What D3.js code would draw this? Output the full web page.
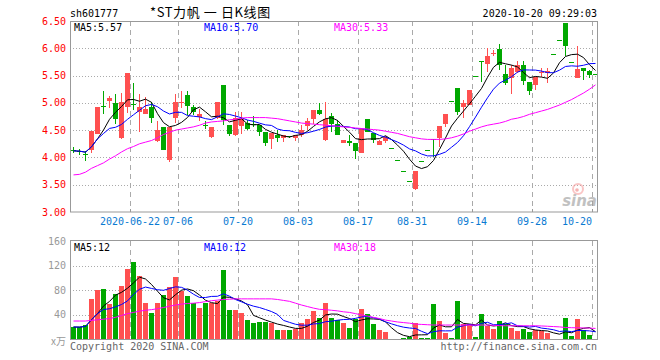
<!DOCTYPE html>
<html><head><meta charset="utf-8">
<script src="https://cdn.jsdelivr.net/npm/d3@7/dist/d3.min.js"></script>
<style>body{margin:0;background:#fff}svg{display:block}</style>
</head><body><svg id="c" width="660" height="360"></svg>
<script>
// ---- data ----
const dates = ["06-08","06-09","06-10","06-11","06-12","06-15","06-16","06-17","06-18","06-19",
"06-22","06-23","06-24","06-29","06-30","07-01","07-02","07-03","07-06","07-07",
"07-08","07-09","07-10","07-13","07-14","07-15","07-16","07-17","07-20","07-21",
"07-22","07-23","07-24","07-27","07-28","07-29","07-30","07-31","08-03","08-04",
"08-05","08-06","08-07","08-10","08-11","08-12","08-13","08-14","08-17","08-18",
"08-19","08-20","08-24","08-25","08-26","08-27","08-28","08-31","09-01","09-02",
"09-03","09-04","09-07","09-08","09-09","09-10","09-11","09-14","09-15","09-16",
"09-17","09-18","09-21","09-22","09-23","09-24","09-25","09-28","09-29","09-30",
"10-09","10-12","10-13","10-14","10-15","10-16","10-19","10-20"];
const open  = [4.13,4.12,4.07,4.14,4.43,4.94,5.04,5.00,4.35,4.93,4.97,4.83,4.80,4.93,4.31,4.55,3.95,4.73,4.99,5.14,4.93,4.74,4.59,4.38,4.72,5.33,4.59,4.41,4.58,4.64,4.61,4.59,4.47,4.34,4.41,4.36,4.39,4.36,4.42,4.58,4.70,4.87,4.32,4.76,4.61,4.27,4.30,4.26,4.08,4.70,4.45,4.23,4.30,4.17,3.96,3.76,3.57,3.42,3.94,4.13,4.34,4.35,4.61,5.04,5.28,4.93,4.96,5.50,5.76,5.72,5.89,5.98,5.53,5.45,5.57,5.69,5.39,5.33,5.55,5.55,5.89,6.16,6.47,5.74,5.46,5.63,5.58,5.52];
const high  = [4.19,4.16,4.11,4.49,4.92,5.22,5.13,5.16,5.18,5.54,5.37,5.16,5.11,5.01,4.66,4.55,4.55,5.16,5.21,5.21,4.96,4.89,4.66,4.55,5.01,5.33,4.59,4.84,4.84,4.69,4.76,4.59,4.47,4.45,4.50,4.42,4.40,4.42,4.59,4.73,4.87,5.00,5.01,4.82,4.69,4.32,4.41,4.26,4.52,4.70,4.45,4.32,4.39,4.17,3.96,3.76,3.57,3.75,3.94,4.13,4.34,4.58,4.80,5.04,5.28,5.06,5.24,5.50,5.77,6.01,5.97,6.08,5.69,5.69,5.77,5.77,5.39,5.48,5.63,5.63,5.89,6.16,6.47,5.74,6.05,5.63,5.61,5.52];
const low   = [4.08,4.04,3.94,4.09,4.43,4.79,4.90,4.61,4.34,4.82,4.87,4.47,4.80,4.64,4.29,4.14,3.92,4.63,4.90,4.78,4.78,4.67,4.53,4.36,4.71,4.60,4.40,4.40,4.43,4.50,4.55,4.39,4.21,4.16,4.29,4.28,4.35,4.30,4.38,4.50,4.61,4.78,4.31,4.47,4.41,4.27,4.21,3.98,4.08,4.47,4.27,4.23,4.26,4.17,3.96,3.76,3.57,3.40,3.94,4.13,4.01,4.20,4.56,5.04,4.78,4.72,4.96,5.50,5.38,5.57,5.85,5.61,5.33,5.17,5.54,5.33,5.14,5.24,5.48,5.36,5.89,6.16,5.85,5.74,5.46,5.42,5.46,5.52];
const close = [4.12,4.11,4.06,4.49,4.92,4.93,5.09,4.70,5.02,5.54,4.96,4.93,4.89,4.73,4.50,4.14,4.55,5.01,5.01,4.95,4.84,4.80,4.58,4.55,5.01,4.69,4.43,4.72,4.70,4.53,4.60,4.47,4.27,4.44,4.36,4.42,4.38,4.42,4.51,4.66,4.87,4.80,4.70,4.61,4.41,4.32,4.27,4.11,4.52,4.47,4.32,4.30,4.38,4.17,3.96,3.76,3.57,3.75,3.94,4.13,4.33,4.58,4.80,5.04,4.84,4.99,5.24,5.50,5.75,5.86,5.91,5.69,5.37,5.63,5.69,5.40,5.22,5.48,5.57,5.58,5.89,6.16,6.05,5.74,5.62,5.58,5.51,5.52];
const volume = [20.3,20,23.5,65,81,82.7,57,74.7,87.5,114.7,125.9,103.5,60,42.7,60,73,86,102,79.5,70,58.7,50.7,60,60,62,113,47.5,47.5,42.7,31.5,26.7,28.3,28.3,26.7,15.5,15.5,15.5,17,26.7,33,46,34.7,58.7,34.7,31.5,26.7,18.7,33,49,41,25,15.5,12.3,1.6,1.6,2.7,4.8,26,2.7,2.7,57,30,10.7,2.7,62,25,25,4.3,41.6,21.9,17,30,25,18.7,13.9,17,12.3,15.5,13.9,10.7,1.6,1.6,34.7,5.9,33,15.5,7.5,1.6];
// 30-day averages (they need history before the first visible day)
const priceMA30 = [3.68,3.69,3.73,3.80,3.85,3.90,3.97,4.03,4.10,4.16,4.20,4.25,4.28,4.31,4.36,4.42,4.46,4.50,4.52,4.54,4.56,4.59,4.63,4.65,4.66,4.67,4.69,4.70,4.72,4.73,4.73,4.73,4.73,4.72,4.71,4.69,4.67,4.65,4.63,4.62,4.61,4.60,4.59,4.58,4.57,4.56,4.55,4.54,4.53,4.52,4.51,4.50,4.48,4.46,4.44,4.41,4.38,4.36,4.34,4.33,4.33,4.33,4.34,4.36,4.39,4.43,4.48,4.52,4.56,4.59,4.61,4.63,4.66,4.70,4.72,4.75,4.79,4.82,4.85,4.88,4.92,4.96,5.01,5.06,5.12,5.18,5.25,5.33];
const volMA30 = [30,30,30,31,32,33,34,36,39,42,44,46,47.5,48.5,50,52,54,56,57.5,58.5,59,60,61.5,63,64,65,65.5,66,66,66,66,66,66,66,65,63.5,62,59,56,53.5,51,49,48.5,47.5,46.5,45,44,42,40,38,36,34,31.5,30,28.5,27.5,26.5,25,24.5,24,23.5,23.5,23.5,23.5,23.5,23.5,23.5,23.5,23.5,23.5,23,22.5,22.3,22.3,22.3,22.3,22.3,22.3,22,21.5,21,20.5,19.5,19.2,19,18.8,18.5,18];
const priceTicks = [6.5,6.0,5.5,5.0,4.5,4.0,3.5,3.0];
const volTicks = [160,120,80,40];
const dateTicks = ["06-22","07-06","07-20","08-03","08-17","08-31","09-14","09-28","10-20"];
const dateTickLabels = ["2020-06-22","07-06","07-20","08-03","08-17","08-31","09-14","09-28","10-20"];
const titleCode = "sh601777", titleName = "*ST力帆 一 日K线图", stamp = "2020-10-20 09:29:03";
const priceLegend = ["MA5:5.57","MA10:5.70","MA30:5.33"];
const volLegend = ["MA5:12","MA10:12","MA30:18"];

// ---- helpers ----
function ma(a, n){ return a.map((v,i)=>{ const s=a.slice(Math.max(0,i-n+1),i+1); return d3.mean(s); }); }
const RED="#ff5050", GREEN="#00a800", GRID="#aaaaaa", FRAME="#999999";
const MONO="'DejaVu Sans Mono', monospace";
const FS=10;

const svg = d3.select("#c");
const L=70, R=597;
const x = d3.scaleBand().domain(dates).range([L, L+dates.length*6]).padding(0);
const yP = d3.scaleLinear().domain([3,6.5]).range([212,21]);
const yV = d3.scaleLinear().domain([0,160]).range([339.5,241]);
const cx = d => x(d)+3.5;

// header
svg.append("text").attr("x",70).attr("y",13).attr("dy","0.35em").attr("font-family",MONO).attr("font-size",FS).text(titleCode);
svg.append("text").attr("x",150).attr("y",12).attr("dy","0.38em").attr("font-family","'Noto Sans CJK SC', sans-serif").attr("font-size",13).attr("letter-spacing",0.6).text(titleName);
svg.append("text").attr("x",597).attr("y",13).attr("dy","0.35em").attr("text-anchor","end").attr("font-family",MONO).attr("font-size",FS).text(stamp);

function panel(top,bottom,yTicksPos){
  const g=svg.append("g");
  yTicksPos.forEach(y=>g.append("line").attr("x1",L).attr("x2",R).attr("y1",Math.round(y)+0.5).attr("y2",Math.round(y)+0.5)
    .attr("stroke",GRID).attr("stroke-dasharray","1,2"));
  dateTicks.forEach(d=>g.append("line").attr("x1",x(d)+0.5).attr("x2",x(d)+0.5).attr("y1",top).attr("y2",bottom)
    .attr("stroke",GRID).attr("stroke-dasharray","5,4"));
  return g;
}
panel(21,212,priceTicks.filter(t=>t>3&&t<6.5).map(yP));
panel(241,339,[120,80,40].map(yV));

// watermark
const wm = svg.append("g").attr("opacity",0.6);
wm.append("circle").attr("cx",578).attr("cy",189).attr("r",5).attr("fill","none").attr("stroke","#f7a0a0").attr("stroke-width",2);
wm.append("circle").attr("cx",577).attr("cy",190).attr("r",1.8).attr("fill","#f08080");
wm.append("text").attr("x",597).attr("y",206).attr("text-anchor","end").attr("font-family","'DejaVu Sans', sans-serif")
  .attr("font-style","italic").attr("font-weight","bold").attr("font-size",15).attr("fill","#999").text("sina");

// candles
const gC = svg.append("g").attr("shape-rendering","crispEdges");
dates.forEach((d,i)=>{
  const col = close[i]>open[i]?RED:GREEN;
  gC.append("rect").attr("x",x(d)+3).attr("width",1).attr("y",yP(high[i])).attr("height",Math.max(1,yP(low[i])-yP(high[i]))).attr("fill",col);
  const t=yP(Math.max(open[i],close[i])), b=yP(Math.min(open[i],close[i]));
  gC.append("rect").attr("x",x(d)+1).attr("width",5).attr("y",Math.round(t)).attr("height",Math.max(1,Math.round(b)-Math.round(t))).attr("fill",col);
});
const lineP = d3.line().x((v,i)=>cx(dates[i])).y(v=>yP(v));
[[ma(close,5),"#000"],[ma(close,10),"#0000ff"],[priceMA30,"#ff00ff"]].forEach(([a,c])=>
  svg.append("path").attr("d",lineP(a)).attr("fill","none").attr("stroke",c).attr("stroke-width",1));

// volume bars
const gV = svg.append("g").attr("shape-rendering","crispEdges");
dates.forEach((d,i)=>{
  const col = close[i]>open[i]?RED:GREEN;
  gV.append("rect").attr("x",x(d)+1).attr("width",5).attr("y",yV(volume[i])).attr("height",yV(0)-yV(volume[i])).attr("fill",col);
});
const lineV = d3.line().x((v,i)=>cx(dates[i])).y(v=>yV(v));
[[ma(volume,5),"#000"],[ma(volume,10),"#0000ff"],[volMA30,"#ff00ff"]].forEach(([a,c])=>
  svg.append("path").attr("d",lineV(a)).attr("fill","none").attr("stroke",c).attr("stroke-width",1));

// frames
svg.append("rect").attr("x",L+0.5).attr("y",21.5).attr("width",R-L).attr("height",190.5).attr("fill","none").attr("stroke",FRAME);
svg.append("rect").attr("x",L+0.5).attr("y",240.5).attr("width",R-L).attr("height",99).attr("fill","none").attr("stroke",FRAME);
dateTicks.forEach(d=>svg.append("line").attr("x1",x(d)+0.5).attr("x2",x(d)+0.5).attr("y1",209).attr("y2",212).attr("stroke",FRAME));

// y labels
priceTicks.forEach(t=>svg.append("text").attr("x",66).attr("y",yP(t)).attr("dy","0.35em").attr("text-anchor","end")
  .attr("font-family",MONO).attr("font-size",FS).attr("fill","#ff0000").text(t.toFixed(2)));
volTicks.forEach(t=>svg.append("text").attr("x",66).attr("y",yV(t)).attr("dy","0.35em").attr("text-anchor","end")
  .attr("font-family",MONO).attr("font-size",FS).attr("fill","#999").text(t));
svg.append("text").attr("x",66).attr("y",341).attr("dy","0.35em").attr("text-anchor","end")
  .attr("font-family","'Noto Sans CJK SC', sans-serif").attr("font-size",10).attr("fill","#999").text("x万");

// x labels
dateTicks.forEach((d,k)=>{
  const last = k===dateTicks.length-1;
  svg.append("text").attr("x",x(d)).attr("y",221).attr("dy","0.35em").attr("text-anchor",last?"end":"middle")
    .attr("font-family",MONO).attr("font-size",FS).attr("fill","#0a7ad2").text(dateTickLabels[k]);
});

// legends
const legCols=["#000","#0000ff","#ff00ff"], legX=[74,204,334];
priceLegend.forEach((t,k)=>svg.append("text").attr("x",legX[k]).attr("y",27).attr("dy","0.35em").attr("font-family",MONO).attr("font-size",FS).attr("fill",legCols[k]).text(t));
volLegend.forEach((t,k)=>svg.append("text").attr("x",legX[k]).attr("y",247).attr("dy","0.35em").attr("font-family",MONO).attr("font-size",FS).attr("fill",legCols[k]).text(t));

// footer
svg.append("text").attr("x",70).attr("y",346).attr("dy","0.35em").attr("font-family",MONO).attr("font-size",FS).attr("fill","#666").text("Copyright 2020 SINA.COM");
svg.append("text").attr("x",597).attr("y",346).attr("dy","0.35em").attr("text-anchor","end").attr("font-family",MONO).attr("font-size",FS).attr("fill","#666").text("http://finance.sina.com.cn");
</script></body></html>
